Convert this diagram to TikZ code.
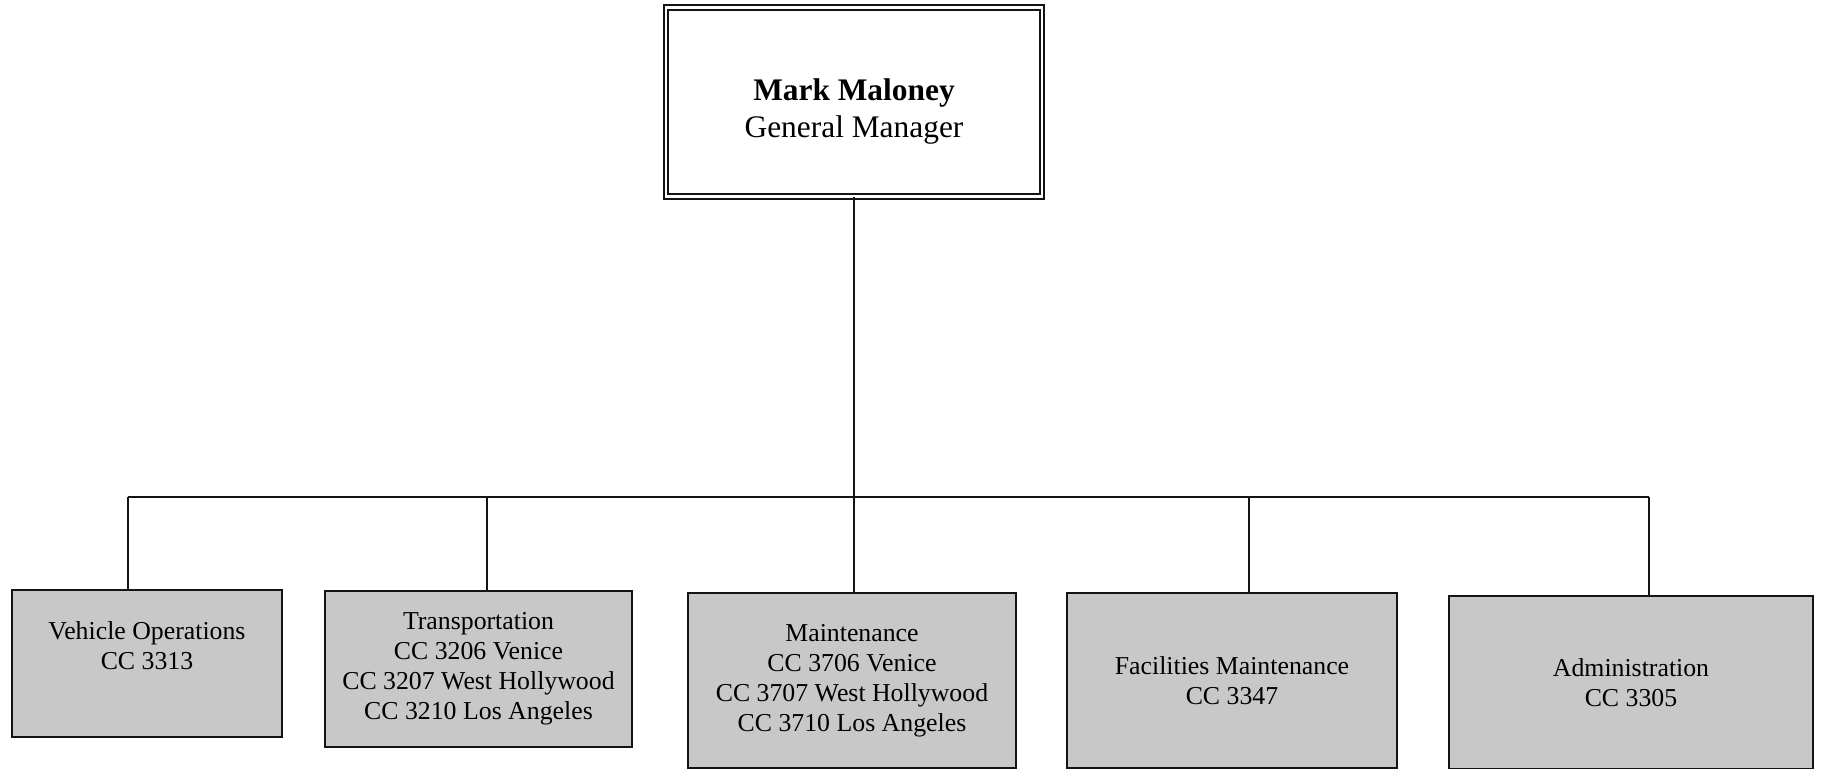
\documentclass[tikz,border=0pt]{standalone}
\usepackage{fontspec}
\setmainfont{Liberation Serif}
\usetikzlibrary{positioning}
\definecolor{inkDark}{HTML}{141414}
\definecolor{deptGray}{HTML}{C8C8C8}

\begin{document}
\begin{tikzpicture}[x=0.5pt, y=-0.5pt,
    chief/.style={draw=inkDark, double, double distance=1.4pt, line width=0.9pt, fill=white,
      minimum width=188pt, minimum height=94.5pt, inner sep=0pt, align=center,
      font=\fontsize{15.7}{18.5}\selectfont},
    dept/.style={draw=inkDark, line width=1.1pt, fill=deptGray, inner sep=0pt, align=center,
      font=\fontsize{12.9}{15}\selectfont},
    link/.style={draw=inkDark, line width=0.8pt}]
    \useasboundingbox (0,0) rectangle (1822,769);
    % top of the chart
    \node[chief, text height=38.5pt] (gm) at (854,102) {\textbf{Mark Maloney}\\General Manager};
    % departments
    \node[dept, minimum width=135pt, minimum height=73.5pt, text depth=18pt] (veh) at (147,663.5)
      {Vehicle Operations\\CC 3313};
    \node[dept, minimum width=153.5pt, minimum height=78pt] (trans) at (478.5,669)
      {Transportation\\CC 3206 Venice\\CC 3207 West Hollywood\\CC 3210 Los Angeles};
    \node[dept, minimum width=164pt, minimum height=87.5pt] (maint) at (852,680.5)
      {Maintenance\\CC 3706 Venice\\CC 3707 West Hollywood\\CC 3710 Los Angeles};
    \node[dept, minimum width=165pt, minimum height=87.5pt] (fac) at (1232,680.5)
      {Facilities Maintenance\\CC 3347};
    \node[dept, minimum width=182pt, minimum height=86.5pt] (adm) at (1631,682.5)
      {Administration\\CC 3305};
    % bus taps
    \coordinate (tapVeh) at (128,497);
    \coordinate (tapTrans) at (487,497);
    \coordinate (tapFac) at (1249,497);
    \coordinate (tapAdm) at (1649,497);
    \draw[link] (gm.south) -- (gm.south |- maint.north);
    \draw[link] (tapVeh) -- (tapAdm);
    \draw[link] (tapVeh) -- (tapVeh |- veh.north);
    \draw[link] (tapTrans) -- (tapTrans |- trans.north);
    \draw[link] (tapFac) -- (tapFac |- fac.north);
    \draw[link] (tapAdm) -- (tapAdm |- adm.north);
  \end{tikzpicture}
\end{document}
